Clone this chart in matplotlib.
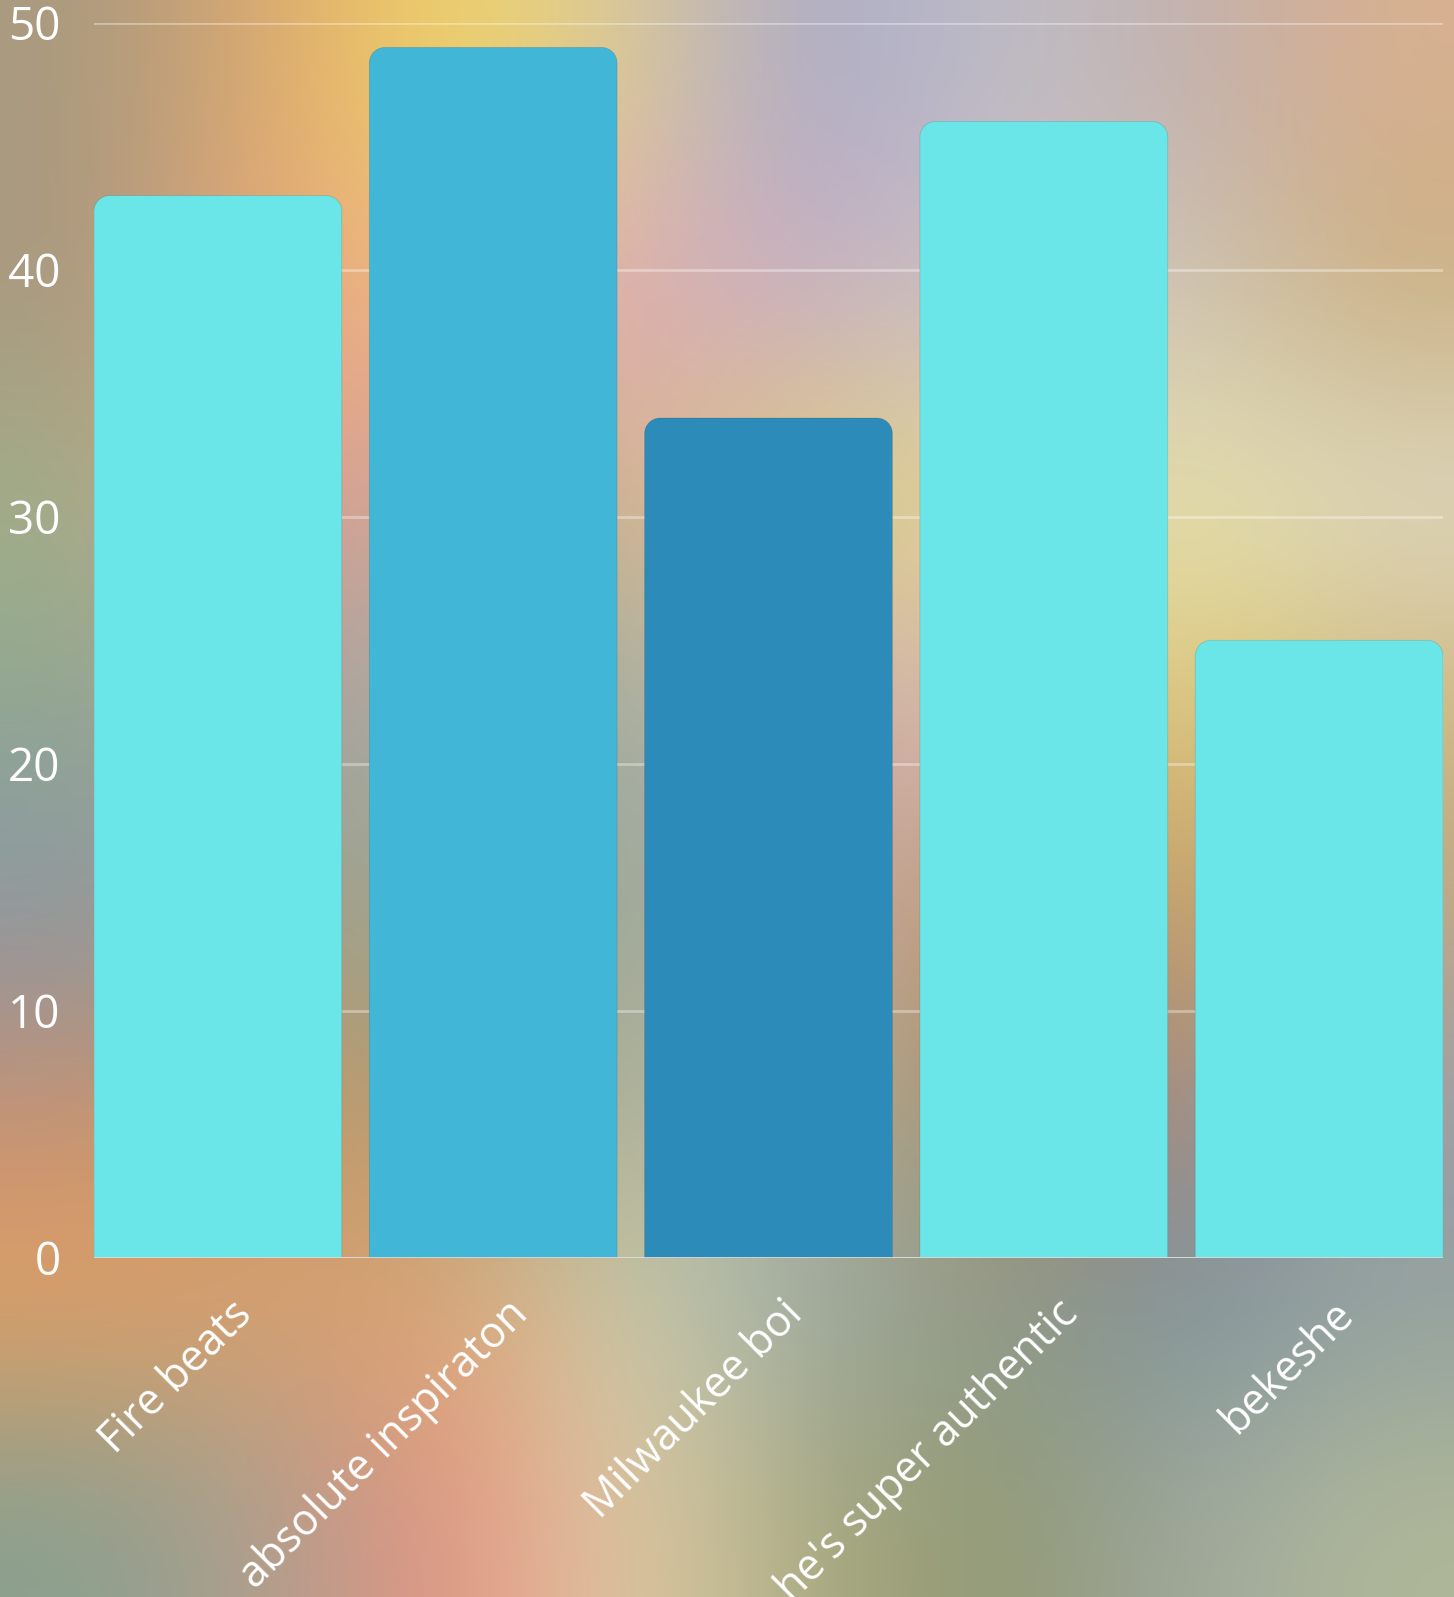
import numpy as np
import matplotlib
matplotlib.use("Agg")
import matplotlib.pyplot as plt
from matplotlib.path import Path
from matplotlib.patches import PathPatch
from matplotlib.colors import to_rgb
from matplotlib.transforms import blended_transform_factory, ScaledTranslation

# datos
categorias = ["Fire beats", "absolute inspiraton", "Milwaukee boi",
              "he's super authentic", "bekeshe"]
valores = [43, 49, 34, 46, 25]
colores = ["#6ae6e9", "#41b6d6", "#2c8bb9", "#6ae6e9", "#6ae6e9"]
yticks = [0, 10, 20, 30, 40, 50]

# fondo difuminado (colores leidos a ojo, filas de arriba hacia abajo)
fondo_hex = [
    ["#a89a80", "#e0a870", "#f2d862", "#d8c8a0", "#a8a8c8", "#c0c0c8", "#c0b0b0", "#d8b090"],
    ["#a89880", "#f0a878", "#f0b890", "#e0a8b8", "#c8b0c8", "#d0c0c0", "#d0c8b8", "#c8b080"],
    ["#a0b088", "#e8a090", "#c8a098", "#d8b890", "#e0d070", "#e0d8a0", "#e8e4b0", "#e0dcc8"],
    ["#90a890", "#b0a0a0", "#a0b0a8", "#a0b0a0", "#d0b0b8", "#d8b8b0", "#e0d070", "#d0b880"],
    ["#8898a8", "#a0a088", "#98a898", "#98a898", "#c0a8a0", "#c89870", "#c8a060", "#c0a888"],
    ["#c09078", "#c89860", "#a89878", "#b0b8a0", "#a8b0a0", "#b08858", "#a08888", "#a0a0a8"],
    ["#e8a060", "#d8a070", "#e0a870", "#c8d0b0", "#98a8a8", "#909c88", "#7890a0", "#90a0a0"],
    ["#88a090", "#b0a090", "#e89080", "#e0d0a8", "#a8a880", "#909870", "#a0a8a0", "#b0b898"],
]
fondo = np.array([[to_rgb(c) for c in fila] for fila in fondo_hex])

plt.rcParams['font.family'] = ['Open Sans', 'DejaVu Sans']

W, H = 1454, 1597
fig = plt.figure(figsize=(W / 100, H / 100), dpi=100)

bg = fig.add_axes([0, 0, 1, 1], zorder=-10)
bg.imshow(fondo, extent=[0, 1, 0, 1], aspect='auto', interpolation='bicubic')
bg.set_axis_off()

izq, der, arriba, abajo = 94, 1443, 22.7, 1258
ax = fig.add_axes([izq / W, (H - abajo) / H, (der - izq) / W, (abajo - arriba) / H])
ax.set_facecolor('none')
ax.set_xlim(-0.45, len(categorias) - 0.55)
ax.set_ylim(0, 50)

x = np.arange(len(categorias))
barras = ax.bar(x, valores, width=0.9, color=colores, zorder=2)


def tapa_redonda(x0, y0, w, h, rx, ry):
    # rectangulo con esquinas superiores redondeadas
    k = 0.5523
    verts = [(x0, y0), (x0, y0 + h - ry),
             (x0, y0 + h - ry + k * ry), (x0 + rx - k * rx, y0 + h), (x0 + rx, y0 + h),
             (x0 + w - rx, y0 + h),
             (x0 + w - rx + k * rx, y0 + h), (x0 + w, y0 + h - ry + k * ry), (x0 + w, y0 + h - ry),
             (x0 + w, y0), (x0, y0)]
    codes = [Path.MOVETO, Path.LINETO,
             Path.CURVE4, Path.CURVE4, Path.CURVE4,
             Path.LINETO,
             Path.CURVE4, Path.CURVE4, Path.CURVE4,
             Path.LINETO, Path.CLOSEPOLY]
    return Path(verts, codes)


px_x = (der - izq) / 4.9
px_y = (abajo - arriba) / 50
rx = 15.5 / px_x
ry = 15.5 / px_y
for b in barras:
    p = tapa_redonda(b.get_x(), b.get_y(), b.get_width(), b.get_height(), rx, ry)
    ax.add_patch(PathPatch(p, facecolor=b.get_facecolor(), edgecolor=(0, 0, 0, 0.12),
                           lw=0.6, zorder=2))
    b.set_visible(False)

for s in ax.spines.values():
    s.set_visible(False)

ax.set_yticks(yticks)
ax.yaxis.grid(True, color='white', alpha=0.35, lw=2, zorder=0)
ax.set_axisbelow(True)
ax.axhline(0, color='#dcdcdc', lw=2, zorder=3)
ax.tick_params(axis='y', length=0, pad=24, labelsize=33, labelcolor='white')
baja = ScaledTranslation(0, -5 / 100, fig.dpi_scale_trans)
for lab in ax.get_yticklabels():
    lab.set_verticalalignment('center')
    lab.set_transform(lab.get_transform() + baja)

ax.set_xticks(x)
ax.set_xticklabels([])
ax.tick_params(axis='x', length=0)

trans = blended_transform_factory(ax.transData, ax.transAxes)
desplaza = ScaledTranslation(28 / 100, -50 / 100, fig.dpi_scale_trans)
for i, nombre in enumerate(categorias):
    ax.text(x[i], 0, nombre, transform=trans + desplaza, rotation=45,
            rotation_mode='anchor', ha='right', va='center',
            fontsize=31, color='white')

fig.savefig('out.png', dpi=100)
